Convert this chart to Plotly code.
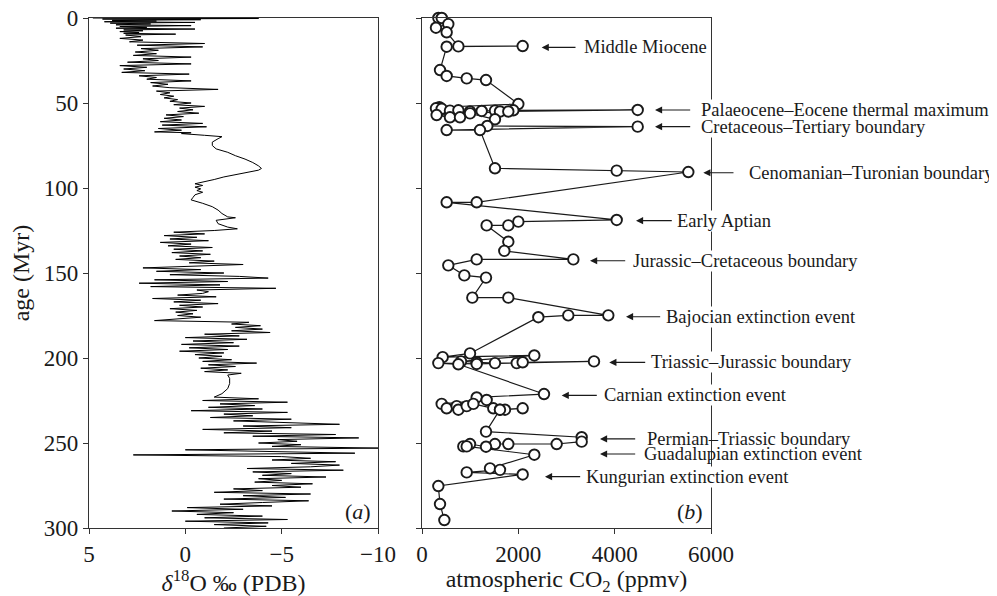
import plotly.graph_objects as go

# ---------------- Panel (a): delta 18O record ----------------
d18o_age = [0, 0.3, 0.6, 1, 1.4, 1.8, 2.2, 2.6, 3, 3.5, 4, 4.5, 5, 5.5, 6, 6.5, 7, 7.5, 8, 8.5, 9, 9.5,
            10, 11, 12, 13, 14, 15, 16, 17, 18, 19, 20, 21, 22, 23, 24, 25, 26, 27, 28, 29, 30, 31, 32, 33,
            34, 35, 36, 37, 38, 39, 40, 41, 42, 43, 44, 45, 46, 47, 48, 49, 50, 51, 52, 53, 54, 55, 56, 57,
            58, 59, 60, 61, 62, 63, 64, 65, 66, 67, 67.5, 68, 69, 69.8, 71, 73, 75, 77, 79, 81, 83, 85, 87,
            88.5, 89.5, 90.5, 92, 93.5, 95, 96.5, 97.5, 98.5, 99.5, 100.5, 101.5, 102.5, 104, 105.5, 107,
            109, 111, 113, 115, 117, 117.5, 119, 121, 123, 124, 125, 126, 127, 128, 129, 130, 131, 132, 133,
            134, 135, 136, 137, 138, 139, 140, 141, 142, 143, 144, 145, 146, 147, 148, 149, 150, 151, 152,
            153, 154, 155, 156, 157, 158, 159, 160, 161, 162, 163, 164, 165, 166, 167, 168, 169, 170, 171,
            172, 173, 174, 175, 176, 177, 178, 179, 180, 181, 182, 183, 184, 185, 186, 187, 188, 189, 190,
            191, 192, 193, 194, 195, 196, 197, 198, 199, 200, 201, 202, 203, 204, 205, 206, 207, 208, 209,
            210, 212, 215, 218, 221, 223, 224, 225, 226, 227, 228, 229, 230, 231, 232, 233, 234, 235, 236,
            237, 238, 239, 240, 241, 242, 243, 244, 245, 246, 247, 248, 249, 250, 251, 252, 253, 254, 255,
            256, 257, 258, 259, 260, 261, 262, 263, 264, 265, 266, 267, 268, 269, 270, 271, 272, 273, 274,
            275, 276, 277, 278, 279, 280, 281, 282, 283, 284, 285, 286, 287, 288, 289, 290, 291, 292, 293,
            294, 295, 296, 297, 298, 299, 300]
d18o_value = [4.8, -3.8, 4.3, -0.8, 3.8, 1.5, 4.2, -0.5, 3.9, 1.8, 3.6, -0.3, 3.4, 2.0, 3.6, -0.5, 3.2, 2.2,
              3.4, 2.4, 3.2, 0.5,
              3.1, 2.3, 3.4, 2.2, 2.9, -1.0, 2.5, -0.9, 2.3, 1.4, 2.6, 1.5, 2.7, -0.3, 2.2, 1.4, 3.0, -0.3,
              3.4, 2.0, 3.2, 2.1, 3.3, -0.2,
              2.4, 1.5, 2.0, -0.3, 1.8, 0.9, 1.7, 0.8, -1.7, 1.5, 0.8, 1.3, 0.6, 1.1, 0.4, 0.8, -0.3, 0.6,
              -1.0, 0.3, -0.4, 0.4, -0.7, 1.0,
              0.1, 1.1, 0.2, 1.3, -0.9, 1.2, -1.1, 1.4, 0.2, 1.6, -0.3, 0.2, -1.0, -1.9, -1.7, -1.4, -1.4,
              -1.6, -2.2, -2.6, -3.1, -3.5, -3.8,
              -3.95, -3.8, -3.3, -2.6, -2.0, -1.5, -0.8, -0.5, -0.9, -0.5, -0.8, -0.6, -0.9, -0.5, -0.4, -0.3,
              -0.9, -1.4, -1.7, -1.9, -2.2, -2.6, -1.6, -1.7, -2.2, -2.7, -1.5, 0.6, -1.0, 1.1, -0.6, 0.8,
              -1.2, 1.3, -0.3,
              0.9, -1.4, 0.6, -0.9, 0.7, -1.3, 0.3, -0.8, 0.5, -1.5, -0.2, -3.0, 0.0, 2.2, -0.8, 1.5, -2.0,
              0.8, -2.8,
              -4.3, 1.6, -2.2, 2.4, -1.8, 1.8, -4.7, -0.6, -1.2, -0.9, 0.4, -1.6, 1.7, -0.8, 0.6, -1.7, 0.3,
              -0.9, 0.8,
              -0.6, 0.5, -0.4, 0.4, -0.8, 0.6, 1.6, -3.3, -2.4, -3.9, -2.6, -4.0, -2.4, -4.4, -1.0, -2.8,
              0.0, -3.2, -0.4,
              -2.5, 0.2, -2.8, -0.2, -2.2, 0.3, -2.0, -0.5, -1.9, -0.7, -2.4, -0.9, -3.7, -1.2, -2.6, -0.8,
              -2.2, -1.0, -2.9,
              -2.2, -2.3, -2.3, -2.2, -1.9, -1.5, -3.8, -0.9, -5.3, -1.8, -3.6, -1.2, -4.0, -0.3, -5.3, -2.0,
              -3.5, -1.3, -5.5,
              -2.5, -4.8, -8.0, -3.0, -5.5, -0.9, -4.5, -2.0, -7.8, -3.5, -9.0, -4.8, -5.8, -3.8, -6.0, -4.5,
              -10.0, 0.0, -4.2,
              -8.8, 2.7, -5.0, -6.5, -4.5, -7.8, -5.5, -8.0, -6.5, -3.2, -8.2, -3.5, -5.5, -4.0, -7.3, -3.8,
              -5.0, -3.6, -6.6,
              -4.5, -6.0, -2.5, -4.0, -1.5, -6.5, -3.0, -5.2, -2.0, -6.4, -4.0, -1.8, -4.5, -0.1, -3.0, 0.7,
              -2.5, -0.6, -4.0,
              -1.0, -5.3, 0.0, -4.3, -1.5, -4.2, -2.0]

# ---------------- Panel (b): atmospheric CO2 ----------------
co2_age = [0, 0, 3.6, 5.7, 8.4, 16.7, 16.5, 16.9, 30.6, 34.1, 35.5, 36.5, 50.6,
           52.5, 53.1, 53.4, 54.5, 54.3, 55.0, 54.7, 54.5, 55.0, 54.3, 54.1, 55.0, 57.1, 58.4, 58.4, 56.1,
           59.6, 63.5, 63.9, 65.9, 65.9, 88.4, 89.8, 90.6, 108.4, 108.4, 118.8, 119.8, 122, 122, 131.6,
           137, 142, 142, 145.5, 151.4, 152.7, 164.5, 164.5, 174.9, 174.9, 176, 197.3, 199.5, 198.5, 202,
           202.5, 203, 203, 202.5, 202, 203.5, 203, 203.7, 221.2, 223.2, 224.7, 227, 229.6, 228.3, 230.4,
           228.3, 227, 229.6, 230.4, 230.4, 229.6, 230.4, 243.3, 246.6, 249.2, 250.6, 250.6, 250.6, 252.2,
           250.6, 252, 252, 256.9, 264.9, 265.8, 267.3, 268.5, 275.3, 285.9, 295.3]
co2_ppmv = [340, 410, 546, 290, 512, 755, 2090, 512, 374, 512, 928, 1329, 2000,
            360, 290, 409, 581, 755, 997, 1239, 1515, 1619, 1896, 4478, 1792, 304, 581, 789, 997,
            1515, 1356, 4478, 512, 1204, 1515, 4042, 5529, 1135, 512, 4042, 2000, 1792, 1342, 1792,
            1709, 3142, 1135, 546, 879, 1329, 1045, 1792, 3868, 3037, 2415, 997, 429, 2332, 810,
            1135, 1515, 1966, 2090, 3571, 1135, 339, 755, 2533, 1135, 1342, 409, 512, 720, 755,
            928, 1066, 1480, 1619, 1723, 2090, 1619, 1329, 3315, 3315, 2796, 1792, 1515, 1329,
            997, 858, 928, 2332, 1412, 1619, 928, 2090, 339, 374, 464]

event_names = ["Middle Miocene", "Palaeocene–Eocene thermal maximum", "Cretaceous–Tertiary boundary",
               "Cenomanian–Turonian boundary", "Early Aptian", "Jurassic–Cretaceous boundary",
               "Bajocian extinction event", "Triassic–Jurassic boundary", "Carnian extinction event",
               "Permian–Triassic boundary", "Guadalupian extinction event", "Kungurian extinction event"]
event_age = [17.3, 54.1, 63.9, 91, 119.2, 142.8, 175.7, 202.6, 222, 247.6, 256.5, 269.8]
arrow_head = [2485, 4837, 4837, 5840, 4443, 3488, 4235, 3888, 2900, 3695, 3695, 2553]
arrow_tail = [3218, 5599, 5599, 6498, 5217, 4250, 4976, 4665, 3660, 4457, 4457, 3315]
label_x = [3342, 5771, 5771, 6774, 5273, 4353, 5045, 4733, 3764, 4650, 4594, 3384]
label_bg = [True, True, True, True, True, True, True, True, True, False, False, True]

age_ticks = [0, 50, 100, 150, 200, 250, 300]
d18o_ticks = [5, 0, -5, -10]
co2_ticks = [0, 2000, 4000, 6000]
CO2_MAX = 6000

FONT = "Liberation Serif, Times New Roman, serif"
INK = "#1a1a1a"

fig = go.Figure()
fig.add_trace(go.Scatter(x=d18o_value, y=d18o_age, mode="lines",
                         line=dict(color="black", width=1), xaxis="x", yaxis="y",
                         showlegend=False, hoverinfo="skip"))
fig.add_trace(go.Scatter(x=co2_ppmv, y=co2_age, mode="lines+markers",
                         line=dict(color=INK, width=1.2),
                         marker=dict(symbol="circle", size=10.5, color="white",
                                     line=dict(color=INK, width=1.9)),
                         xaxis="x2", yaxis="y2", showlegend=False, cliponaxis=False))

axis_common = dict(showgrid=False, zeroline=False, showline=True, linecolor="#333", linewidth=1.3,
                   mirror=True, ticks="outside", ticklen=5, tickwidth=1.2, tickcolor="#333",
                   automargin=False, ticklabeloverflow="allow",
                   tickfont=dict(family=FONT, size=23, color=INK))

# page has an 8 px body margin; plot area on page: x 89..711, y 18..528
fig.update_layout(
    width=989, height=588,
    margin=dict(l=81, r=286, t=10, b=68, pad=0),
    paper_bgcolor="white", plot_bgcolor="white",
    font=dict(family=FONT, color=INK),
    xaxis=dict(domain=[0, 289 / 622], range=[5, -10], tickvals=d18o_ticks,
               title=dict(text="<i>δ</i><sup>18</sup>O ‰ (PDB)", font=dict(family=FONT, size=24, color=INK),
                          standoff=8),
               anchor="y", **axis_common),
    yaxis=dict(domain=[0, 1], range=[300, 0], tickvals=age_ticks,
               title=dict(text="age (Myr)", font=dict(family=FONT, size=24, color=INK), standoff=14),
               anchor="x", **axis_common),
    xaxis2=dict(domain=[333 / 622, 1], range=[0, CO2_MAX], tickvals=co2_ticks,
                title=dict(text="atmospheric CO<sub>2</sub> (ppmv)", font=dict(family=FONT, size=24, color=INK),
                           standoff=8),
                anchor="y2", **axis_common),
    yaxis2=dict(domain=[0, 1], range=[300, 0], tickvals=age_ticks, showticklabels=False,
                anchor="x2", **axis_common),
)

annotations = []
for name, age, hx, tx, lx, bg in zip(event_names, event_age, arrow_head, arrow_tail, label_x, label_bg):
    annotations.append(dict(x=hx, y=age, xref="x2", yref="y2", ax=tx, ay=age, axref="x2", ayref="y2",
                            text="", showarrow=True, arrowhead=2, arrowsize=1.3, arrowwidth=1.1,
                            arrowcolor=INK))
    annotations.append(dict(x=lx / CO2_MAX, y=age, xref="x2 domain", yref="y2", text=name, showarrow=False,
                            xanchor="left", yanchor="middle",
                            bgcolor="white" if bg else "rgba(0,0,0,0)", borderpad=0,
                            font=dict(family=FONT, size=18.5, color=INK)))
annotations.append(dict(x=-8.96, y=290, xref="x", yref="y", text="(<i>a</i>)", showarrow=False,
                        font=dict(family=FONT, size=22, color=INK)))
annotations.append(dict(x=5564, y=290, xref="x2", yref="y2", text="(<i>b</i>)", showarrow=False,
                        font=dict(family=FONT, size=22, color=INK)))
fig.update_layout(annotations=annotations)

fig.write_html("out.html")
